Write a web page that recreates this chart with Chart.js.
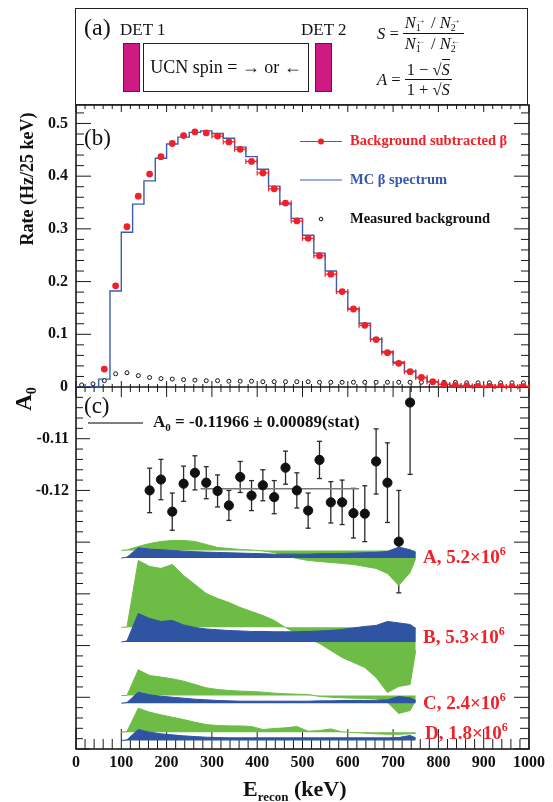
<!DOCTYPE html>
<html>
<head>
<meta charset="utf-8">
<script src="https://cdn.jsdelivr.net/npm/chart.js@4.4.1/dist/chart.umd.min.js"></script>
<style>
  body { margin: 0; background: #fff; }
  #wrap { position: relative; width: 553px; height: 802px; overflow: hidden;
          font-family: 'Liberation Serif', 'Times New Roman', serif; color: #111; }
  #c { position: absolute; left: 0; top: 0; }
  .t { position: absolute; white-space: nowrap; }
  .b { font-weight: bold; }
  .rot { transform: rotate(-90deg); text-align: center; }
  .sup { position: relative; top: -8px; font-size: 12px; }
  .red { color: #ee2229; }
  .det { position: absolute; width: 15px; height: 47px; background: #cf1a84; border: 1px solid #333; }
  .ucn { position: absolute; left: 143px; top: 43px; width: 164px; height: 47px; border: 1.5px solid #222;
         font-size: 18px; line-height: 47px; text-align: center; }
  .math { display: flex; align-items: center; font-size: 16.5px; }
  .frac { display: inline-flex; flex-direction: column; align-items: center; }
  .frac .num { border-bottom: 1px solid #111; padding: 0 2px 1px; line-height: 17px; }
  .frac .den { padding-top: 1px; line-height: 17px; }
  .ss { display: inline-flex; flex-direction: column; font-size: 10px; line-height: 8px;
        vertical-align: middle; font-style: normal; margin-right: 1px; }
  i { font-style: italic; }
</style>
</head>
<body>
<div id="wrap">
  <canvas id="c" width="553" height="802"></canvas>

  <!-- panel (a): schematic -->
  <div class="t" style="left:75px;top:8px;width:451px;height:95px;border:1.6px solid #222"></div>
  <div class="t" style="left:84px;top:15px;font-size:24px;line-height:24px">(a)</div>
  <div class="t" style="left:120px;top:21px;font-size:17px;line-height:17px">DET 1</div>
  <div class="t" style="left:301px;top:21px;font-size:17px;line-height:17px">DET 2</div>
  <div class="det" style="left:123px;top:43px"></div>
  <div class="det" style="left:315px;top:43px"></div>
  <div class="ucn">UCN spin = → or ←</div>
  <div class="t math" style="left:377px;top:14px">
    <i>S</i>&nbsp;=&nbsp;
    <span class="frac">
      <span class="num"><i>N</i><span class="ss"><span>→</span><span>1</span></span> / <i>N</i><span class="ss"><span>→</span><span>2</span></span></span>
      <span class="den"><i>N</i><span class="ss"><span>←</span><span>1</span></span> / <i>N</i><span class="ss"><span>←</span><span>2</span></span></span>
    </span>
  </div>
  <div class="t math" style="left:377px;top:61px">
    <i>A</i>&nbsp;=&nbsp;
    <span class="frac">
      <span class="num">1 − √<i style="border-top:1px solid #111">S</i></span>
      <span class="den">1 + √<i style="border-top:1px solid #111">S</i></span>
    </span>
  </div>

  <!-- panel labels and titles -->
  <div class="t" style="left:84px;top:126px;font-size:23px;line-height:23px">(b)</div>
  <div class="t" style="left:84px;top:394px;font-size:23px;line-height:23px">(c)</div>
  <div class="t b rot" style="left:-73px;top:167px;width:200px;height:24px;line-height:24px;font-size:18px">Rate (Hz/25 keV)</div>
  <div class="t b rot" style="left:-6px;top:385px;width:60px;height:28px;line-height:28px;font-size:23px">A<span style="position:relative;top:5px;font-size:14px">0</span></div>
  <div class="t b" style="left:243px;top:778px;font-size:22px;line-height:22px">E<span style="position:relative;top:5px;font-size:13px">recon</span> (keV)</div>

  <!-- legend of panel (b) -->
  <div class="t b red" style="left:350px;top:133px;font-size:14.5px;line-height:14.5px">Background subtracted β</div>
  <div class="t b" style="left:350px;top:172px;font-size:14.5px;line-height:14.5px;color:#3558b0">MC β spectrum</div>
  <div class="t b" style="left:350px;top:211px;font-size:14.5px;line-height:14.5px">Measured background</div>

  <!-- fit result of panel (c) -->
  <div class="t b" style="left:153px;top:413px;font-size:17px;line-height:17px">A<span style="position:relative;top:4px;font-size:11px">0</span> = -0.11966 ± 0.00089(stat)</div>

  <!-- band labels -->
  <div class="t b red" style="left:423px;top:547px;font-size:19px;line-height:19px">A, 5.2×10<span class="sup">6</span></div>
  <div class="t b red" style="left:423px;top:627px;font-size:19px;line-height:19px">B, 5.3×10<span class="sup">6</span></div>
  <div class="t b red" style="left:423px;top:693px;font-size:19px;line-height:19px">C, 2.4×10<span class="sup">6</span></div>
  <div class="t b red" style="left:425px;top:723px;font-size:19px;line-height:19px">D, 1.8×10<span class="sup">6</span></div>
</div>

<script>
// ---- panel (b): rate spectra ----
// MC histogram, lower bin edges (keV) and rate; last entry closes the final bin
const mcEdges = [0, 25, 50, 75, 100, 125, 150, 175, 200, 225, 250, 275, 300, 325, 350, 375, 400, 425, 450, 475,
  500, 525, 550, 575, 600, 625, 650, 675, 700, 725, 750, 775, 800, 825, 850, 875, 900, 925, 950, 975, 1000];
const mcRate = [0, 0, 0.015, 0.182, 0.2935, 0.347, 0.391, 0.434, 0.461, 0.474, 0.483, 0.486, 0.481, 0.472, 0.455,
  0.437, 0.413, 0.381, 0.347, 0.320, 0.288, 0.254, 0.220, 0.181, 0.148, 0.121, 0.0905, 0.067, 0.047, 0.030,
  0.018, 0.010, 0.005, 0.003, 0.002, 0.0015, 0.001, 0.001, 0.001, 0.001, 0.001];

// measured background, bin centres
const bgE = [12.5, 37.5, 62.5, 87.5, 112.5, 137.5, 162.5, 187.5, 212.5, 237.5, 262.5, 287.5, 312.5, 337.5,
  362.5, 387.5, 412.5, 437.5, 462.5, 487.5, 512.5, 537.5, 562.5, 587.5, 612.5, 637.5, 662.5, 687.5, 712.5,
  737.5, 762.5, 787.5, 812.5, 837.5, 862.5, 887.5, 912.5, 937.5, 962.5, 987.5];
const bgRate = [0.004, 0.006, 0.012, 0.025, 0.027, 0.0215, 0.018, 0.016, 0.015, 0.014, 0.013, 0.012, 0.012,
  0.011, 0.011, 0.011, 0.010, 0.010, 0.010, 0.010, 0.010, 0.009, 0.009, 0.009, 0.009, 0.009, 0.009, 0.009,
  0.009, 0.009, 0.009, 0.009, 0.009, 0.009, 0.008, 0.008, 0.008, 0.008, 0.008, 0.008];

// background subtracted beta
const redE = [62.5, 87.5, 112.5, 137.5, 162.5, 187.5, 212.5, 237.5, 262.5, 287.5, 312.5, 337.5, 362.5, 387.5,
  412.5, 437.5, 462.5, 487.5, 512.5, 537.5, 562.5, 587.5, 612.5, 637.5, 662.5, 687.5, 712.5, 737.5, 762.5,
  787.5, 812.5, 837.5, 862.5, 887.5, 912.5, 937.5, 962.5, 987.5];
const redRate = [0.034, 0.192, 0.304, 0.362, 0.404, 0.437, 0.462, 0.477, 0.484, 0.482, 0.476, 0.465, 0.451,
  0.428, 0.406, 0.376, 0.349, 0.315, 0.282, 0.249, 0.214, 0.181, 0.148, 0.117, 0.090, 0.065, 0.045, 0.029,
  0.018, 0.010, 0.005, 0.003, 0.002, 0.001, 0.001, 0.001, 0.0005, 0.0005];
const redXErr = [0, 0, 0, 0, 0, 0, 0, 0, 0, 0, 12.5, 12.5, 12.5, 12.5, 12.5, 12.5, 12.5, 12.5, 12.5, 12.5,
  12.5, 12.5, 12.5, 12.5, 12.5, 12.5, 12.5, 12.5, 12.5, 12.5, 12.5, 12.5, 12.5, 12.5, 12.5, 12.5, 12.5, 12.5];

// ---- panel (c): asymmetry ----
const a0E = [162.5, 187.5, 212.5, 237.5, 262.5, 287.5, 312.5, 337.5, 362.5, 387.5, 412.5, 437.5, 462.5, 487.5,
  512.5, 537.5, 562.5, 587.5, 612.5, 637.5, 662.5, 687.5, 712.5, 737.5];
const a0Val = [-0.1200, -0.1179, -0.1241, -0.1187, -0.1166, -0.1185, -0.1201, -0.1229, -0.1174, -0.1210,
  -0.1190, -0.1213, -0.1156, -0.1200, -0.1239, -0.1141, -0.1223, -0.1223, -0.1244, -0.1245, -0.1144,
  -0.1185, -0.1299, -0.1030];
const a0Err = [0.0043, 0.0039, 0.0036, 0.0034, 0.0033, 0.0031, 0.0031, 0.0029, 0.0030, 0.0029, 0.0030, 0.0032,
  0.0032, 0.0034, 0.0034, 0.0036, 0.0040, 0.0043, 0.0048, 0.0054, 0.0063, 0.0077, 0.0099, 0.0139];
const fitA0 = -0.11966;
const fitRange = [275, 625];

// systematic bands A-D: baselines on the A0 axis, offsets in units of 1e-3
const bandE = [100, 112.5, 137.5, 162.5, 187.5, 212.5, 237.5, 262.5, 287.5, 312.5, 337.5, 362.5, 387.5, 412.5,
  437.5, 462.5, 487.5, 512.5, 537.5, 562.5, 587.5, 612.5, 637.5, 662.5, 687.5, 712.5, 737.5, 750];
const greenBase = [-0.13161, -0.14644, -0.15965, -0.16675];
const blueBase = [-0.13309, -0.14930, -0.16114, -0.16836];
const greenA = [0, 0.1, 0.77, 1.35, 1.74, 1.93, 1.93, 1.74, 1.16, 0.58, 0.39, 0.19, 0.1, -0.1, -0.39, -0.97,
  -1.55, -1.93, -2.13, -2.32, -2.51, -2.71, -3.09, -3.48, -4.45, -6.77, -4.26, -1.55];
const blueA = [0, 0.19, 2.0, 1.74, 1.62, 1.49, 1.35, 1.24, 1.16, 1.10, 1.04, 0.97, 0.91, 0.85, 0.77, 0.77,
  0.77, 0.77, 0.85, 0.85, 0.91, 0.97, 1.04, 1.10, 1.30, 2.13, 1.62, 1.10];
const greenB = [0, 0, 12.9, 11.75, 11.36, 12.13, 9.99, 8.25, 6.52, 5.55, 4.78, 3.81, 3.04, 2.26, 1.30, -0.06,
  -1.22, -2.19, -3.15, -4.51, -5.86, -6.83, -7.79, -9.73, -12.63, -11.47, -11.08, -4.51];
const blueB = [0, 0.19, 5.51, 4.55, 3.97, 4.16, 3.29, 2.80, 2.51, 2.36, 2.22, 2.13, 2.03, 2.03, 1.97, 1.97,
  1.97, 2.03, 2.13, 2.22, 2.42, 2.71, 3.00, 3.19, 3.97, 3.68, 3.38, 2.61];
const greenC = [0, 0, 4.96, 3.87, 3.55, 3.22, 2.77, 2.13, 1.48, 1.16, 0.97, 0.84, 0.77, 0.64, 0.45, 0.32,
  0.26, 0.19, -0.19, -0.32, -0.45, -0.52, -0.58, -0.64, -1.3, -3.48, -2.9, -0.97];
const blueC = [0, 0.13, 2.13, 1.61, 1.35, 1.16, 0.97, 0.77, 0.64, 0.52, 0.45, 0.39, 0.39, 0.39, 0.39, 0.39,
  0.39, 0.39, 0.45, 0.45, 0.52, 0.52, 0.52, 0.58, 0.64, 1.29, 1.03, 0.52];
const greenD = [0, 0.13, 4.64, 3.87, 3.35, 2.90, 2.45, 1.93, 1.48, 1.29, 1.22, 1.22, 1.10, 0.52, 0.71, 0.84,
  1.10, 0.19, 0.32, 0.64, 0.06, -0.06, -0.19, -0.32, -0.39, -0.39, -0.32, -0.19];
const blueD = [0, 0.13, 2.13, 1.61, 1.29, 1.10, 0.90, 0.77, 0.64, 0.58, 0.52, 0.52, 0.52, 0.52, 0.52, 0.52,
  0.52, 0.52, 0.52, 0.52, 0.52, 0.52, 0.52, 0.52, 0.52, 0.58, 0.97, 0.52];

// tick labels
const energyTicks = [0, 100, 200, 300, 400, 500, 600, 700, 800, 900, 1000];
const rateTicks = [0, 0.1, 0.2, 0.3, 0.4, 0.5];
const a0Ticks = [-0.12, -0.11];

const RED = '#ee2229', BLUE = '#3a5cb4', GREEN = '#6cbc46', BANDBLUE = '#2f54a2';
const tickFont = { family: "'Liberation Serif', 'Times New Roman', serif", size: 16, weight: 'bold' };

const pts = (xs, ys) => xs.map((e, i) => ({ x: e, y: ys[i] }));

function band(off, base, color, order) {
  return {
    yAxisID: 'y2',
    data: bandE.map((e, i) => ({ x: e, y: base + off[i] * 1e-3 })),
    borderColor: color, backgroundColor: color, borderWidth: 1,
    pointRadius: 0, fill: { value: base }, order
  };
}

const datasets = [
  { // asymmetry points
    yAxisID: 'y2', data: pts(a0E, a0Val), showLine: false,
    pointRadius: 4.6, pointBackgroundColor: '#111', pointBorderColor: '#111', order: 0
  },
  { // background subtracted
    yAxisID: 'y', data: pts(redE, redRate), showLine: false,
    pointRadius: 3.4, pointBackgroundColor: RED, pointBorderColor: RED, pointBorderWidth: 0, order: 1
  },
  { // measured background
    yAxisID: 'y', data: pts(bgE, bgRate), showLine: false,
    pointRadius: 2, pointBackgroundColor: '#fff', pointBorderColor: '#111', pointBorderWidth: 1, order: 2
  },
  { // MC spectrum
    yAxisID: 'y', data: pts(mcEdges, mcRate), stepped: 'before',
    borderColor: BLUE, borderWidth: 1.4, pointRadius: 0, fill: false, order: 3
  },
  { // fit line
    yAxisID: 'y2', data: fitRange.map(e => ({ x: e, y: fitA0 })),
    borderColor: '#777', borderWidth: 1.5, pointRadius: 0, fill: false, order: 4
  },
  band(blueA, blueBase[0], BANDBLUE, 5), band(blueB, blueBase[1], BANDBLUE, 5),
  band(blueC, blueBase[2], BANDBLUE, 5), band(blueD, blueBase[3], BANDBLUE, 5),
  band(greenA, greenBase[0], GREEN, 6), band(greenB, greenBase[1], GREEN, 6),
  band(greenC, greenBase[2], GREEN, 6), band(greenD, greenBase[3], GREEN, 6)
];

const axesFrame = {
  id: 'axesFrame',
  beforeDatasetsDraw(chart) {
    const { ctx, chartArea: ca, scales: { x, y, y2 } } = chart;
    const seg = (a, b, c, d) => { ctx.beginPath(); ctx.moveTo(a, b); ctx.lineTo(c, d); ctx.stroke(); };
    ctx.save();
    ctx.strokeStyle = '#1a1a1a';
    ctx.lineWidth = 1;
    for (let k = 0; k <= 50; k++) {
      const px = x.getPixelForValue(k * 20), mj = k % 5 === 0;
      seg(px, y.top, px, y.top + (mj ? 7 : 4));
      seg(px, y.bottom, px, y.bottom - (mj ? 6 : 3));
      seg(px, y2.top, px, y2.top + (mj ? 10 : 5));
      seg(px, y2.bottom, px, y2.bottom - (mj ? 20 : 10));
    }
    for (let k = 0; k <= 26; k++) {
      const py = y.getPixelForValue(k * 0.02), mj = k % 5 === 0;
      seg(ca.left, py, ca.left + (mj ? 15 : 8), py);
      seg(ca.right, py, ca.right - (mj ? 15 : 8), py);
    }
    for (let k = 0; k <= 35; k++) {
      const py = y2.getPixelForValue(-0.17 + k * 0.002), mj = k % 5 === 0;
      seg(ca.left, py, ca.left + (mj ? 14 : 7), py);
      seg(ca.right, py, ca.right - (mj ? 15 : 9), py);
    }
    ctx.lineWidth = 1.6;
    ctx.strokeRect(ca.left, ca.top, ca.right - ca.left, ca.bottom - ca.top);
    seg(ca.left, y.bottom, ca.right, y.bottom);

    // A0 error bars, clipped to panel (c)
    ctx.save();
    ctx.beginPath();
    ctx.rect(ca.left, y2.top, ca.right - ca.left, y2.bottom - y2.top);
    ctx.clip();
    ctx.strokeStyle = '#2a2a2a';
    ctx.lineWidth = 1.3;
    a0E.forEach((e, i) => {
      const px = x.getPixelForValue(e);
      const hi = y2.getPixelForValue(a0Val[i] + a0Err[i]);
      const lo = y2.getPixelForValue(a0Val[i] - a0Err[i]);
      seg(px, hi, px, lo);
      seg(px - 2.5, hi, px + 2.5, hi);
      seg(px - 2.5, lo, px + 2.5, lo);
    });
    ctx.restore();
    ctx.restore();
  },
  afterDatasetsDraw(chart) {
    const { ctx, scales: { x, y } } = chart;
    const seg = (a, b, c, d) => { ctx.beginPath(); ctx.moveTo(a, b); ctx.lineTo(c, d); ctx.stroke(); };
    ctx.save();
    ctx.strokeStyle = RED;
    ctx.lineWidth = 1.2;
    redE.forEach((e, i) => {
      if (!redXErr[i]) return;
      const x1 = x.getPixelForValue(e - redXErr[i]), x2 = x.getPixelForValue(e + redXErr[i]);
      const py = y.getPixelForValue(redRate[i]);
      seg(x1, py, x2, py);
      seg(x1, py - 2.5, x1, py + 2.5);
      seg(x2, py - 2.5, x2, py + 2.5);
    });
    // legend symbols
    seg(300, 141.5, 342, 141.5);
    ctx.fillStyle = RED;
    ctx.beginPath(); ctx.arc(321, 141.5, 3, 0, Math.PI * 2); ctx.fill();
    ctx.strokeStyle = BLUE;
    seg(300, 180, 342, 180);
    ctx.strokeStyle = '#111';
    ctx.lineWidth = 1;
    ctx.beginPath(); ctx.arc(321, 219, 1.8, 0, Math.PI * 2); ctx.stroke();
    ctx.strokeStyle = '#555';
    ctx.lineWidth = 1.3;
    seg(88, 423, 143, 423);
    ctx.restore();
  }
};

new Chart(document.getElementById('c'), {
  type: 'line',
  data: { datasets },
  options: {
    responsive: false,
    animation: false,
    layout: { padding: { top: 105, right: 24, bottom: 0, left: 0 } },
    plugins: { legend: { display: false }, tooltip: { enabled: false } },
    scales: {
      x: {
        type: 'linear', position: 'bottom', min: 0, max: 1000,
        grid: { display: false, drawTicks: false }, border: { display: false },
        ticks: { font: tickFont, color: '#111', padding: 4, autoSkip: false, maxRotation: 0,
                 callback: v => String(v) },
        afterBuildTicks: s => { s.ticks = energyTicks.map(v => ({ value: v })); },
        afterFit: s => { s.height = 53; }
      },
      y: {
        type: 'linear', position: 'left', stack: 'panels', stackWeight: 282, weight: 2,
        min: 0, max: 0.535,
        grid: { display: false, drawTicks: false }, border: { display: false },
        ticks: { font: tickFont, color: '#111', padding: 8, autoSkip: false,
                 callback: v => (v === 0 ? '0' : v.toFixed(1)) },
        afterBuildTicks: s => { s.ticks = rateTicks.map(v => ({ value: v })); },
        afterFit: s => { s.width = 76; }
      },
      y2: {
        type: 'linear', position: 'left', stack: 'panels', stackWeight: 362, weight: 1,
        min: -0.17, max: -0.10,
        grid: { display: false, drawTicks: false }, border: { display: false },
        ticks: { font: tickFont, color: '#111', padding: 7, autoSkip: false,
                 callback: v => v.toFixed(2) },
        afterBuildTicks: s => { s.ticks = a0Ticks.map(v => ({ value: v })); },
        afterFit: s => { s.width = 76; }
      }
    }
  },
  plugins: [axesFrame]
});
</script>
</body>
</html>
